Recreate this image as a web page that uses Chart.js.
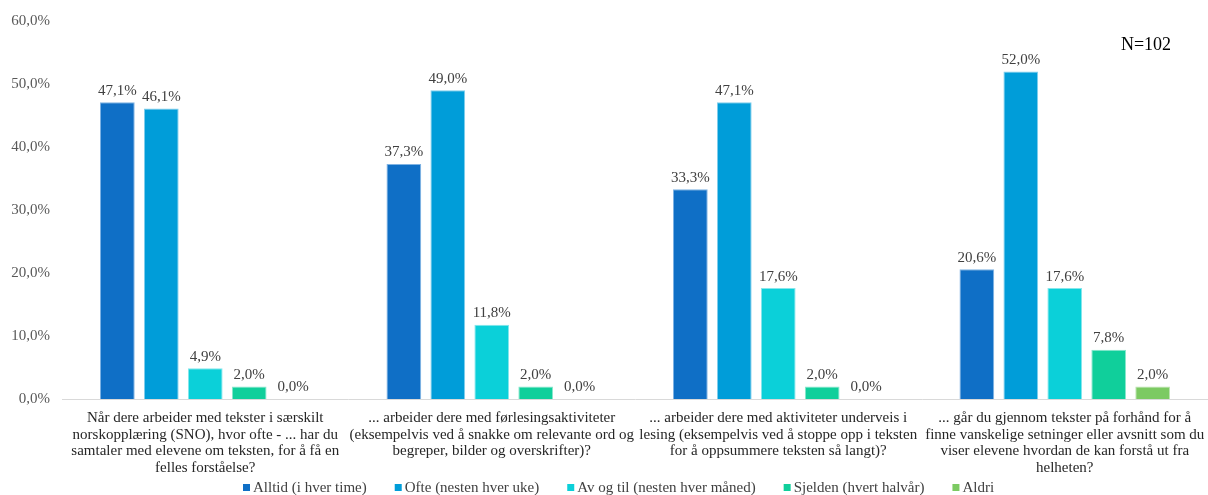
<!DOCTYPE html>
<html>
<head>
<meta charset="utf-8">
<script src="https://cdn.jsdelivr.net/npm/chart.js@4.4.1/dist/chart.umd.min.js"></script>
<style>
  html, body { margin: 0; padding: 0; background: #fff; }
  #wrap { width: 1208px; height: 495px; position: relative; }
</style>
</head>
<body>
<div id="wrap"><canvas id="chart"></canvas></div>
<script>
// Chart data
var categories = [
    ['Når dere arbeider med tekster i særskilt', 'norskopplæring (SNO), hvor ofte - ... har du', 'samtaler med elevene om teksten, for å få en', 'felles forståelse?'],
    ['... arbeider dere med førlesingsaktiviteter', '(eksempelvis ved å snakke om relevante ord og', 'begreper, bilder og overskrifter)?'],
    ['... arbeider dere med aktiviteter underveis i', 'lesing (eksempelvis ved å stoppe opp i teksten', 'for å oppsummere teksten så langt)?'],
    ['... går du gjennom tekster på forhånd for å', 'finne vanskelige setninger eller avsnitt som du', 'viser elevene hvordan de kan forstå ut fra', 'helheten?']
];
var seriesNames = ['Alltid (i hver time)', 'Ofte (nesten hver uke)', 'Av og til (nesten hver måned)', 'Sjelden (hvert halvår)', 'Aldri'];
var alltid = [47.1, 37.3, 33.3, 20.6];
var ofte = [46.1, 49.0, 47.1, 52.0];
var avOgTil = [4.9, 11.8, 17.6, 17.6];
var sjelden = [2.0, 2.0, 2.0, 7.8];
var aldri = [0.0, 0.0, 0.0, 2.0];
var yTicks = [0, 10, 20, 30, 40, 50, 60];
var noteText = 'N=102';

var colors = ['#0F6FC6', '#009DD9', '#0BD0D9', '#10CF9B', '#7CCA62'];
var edges = ['#7FB3E3', '#80CEEC', '#85E7EC', '#88E7CD', '#BDE4B0'];
var serif = "'Liberation Serif', 'Times New Roman', serif";

function pct(v) { return v.toFixed(1).replace('.', ',') + '%'; }

// value labels above bars
var valueLabels = {
    id: 'valueLabels',
    afterDatasetsDraw: function(chart) {
        var ctx = chart.ctx;
        ctx.save();
        ctx.font = '15px ' + serif;
        ctx.fillStyle = '#404040';
        ctx.textAlign = 'center';
        ctx.textBaseline = 'bottom';
        chart.data.datasets.forEach(function(ds, i) {
            var meta = chart.getDatasetMeta(i);
            meta.data.forEach(function(bar, j) {
                ctx.fillText(pct(ds.data[j]), bar.x, bar.y - 4);
            });
        });
        ctx.restore();
    }
};

// N label and bottom legend
var extras = {
    id: 'extras',
    afterDraw: function(chart) {
        var ctx = chart.ctx;
        ctx.save();
        ctx.font = '18px ' + serif;
        ctx.fillStyle = '#000';
        ctx.textAlign = 'center';
        ctx.textBaseline = 'middle';
        ctx.fillText(noteText, 1146, 45);

        ctx.font = '15px ' + serif;
        ctx.textAlign = 'left';
        var x = 243, y = 488;
        chart.data.datasets.forEach(function(ds, i) {
            ctx.fillStyle = ds.backgroundColor;
            ctx.fillRect(x, y - 4, 7, 7);
            ctx.fillStyle = '#404040';
            ctx.fillText(ds.label, x + 10, y);
            x += 10 + ctx.measureText(ds.label).width + 28;
        });
        ctx.restore();
    }
};

var seriesValues = [alltid, ofte, avOgTil, sjelden, aldri];

new Chart(document.getElementById('chart'), {
    type: 'bar',
    data: {
        labels: categories,
        datasets: seriesValues.map(function(vals, i) {
            return {
                label: seriesNames[i],
                data: vals,
                backgroundColor: colors[i],
                borderColor: edges[i],
                borderWidth: 1,
                categoryPercentage: 0.767,
                barPercentage: 0.79
            };
        })
    },
    options: {
        responsive: true,
        maintainAspectRatio: false,
        animation: false,
        layout: { padding: { top: 21, right: 0, left: 0, bottom: 0 } },
        plugins: {
            legend: { display: false },
            tooltip: { enabled: false }
        },
        scales: {
            x: {
                grid: { display: false, drawTicks: false },
                border: { display: true, color: '#D9D9D9', width: 1 },
                ticks: {
                    color: '#262626',
                    font: { family: serif, size: 15, lineHeight: 1.1 },
                    padding: 11,
                    maxRotation: 0,
                    autoSkip: false
                },
                afterFit: function(scale) {
                    scale.height = 96;
                    scale.paddingLeft = 0;
                    scale.paddingRight = 0;
                }
            },
            y: {
                min: 0,
                max: 60,
                afterBuildTicks: function(scale) {
                    scale.ticks = yTicks.map(function(v) { return { value: v }; });
                },
                grid: { display: false, drawTicks: false },
                border: { display: false },
                ticks: {
                    color: '#595959',
                    font: { family: serif, size: 15 },
                    padding: 12,
                    callback: function(v) { return pct(v); }
                },
                afterFit: function(scale) { scale.width = 62; }
            }
        }
    },
    plugins: [valueLabels, extras]
});
</script>
</body>
</html>
